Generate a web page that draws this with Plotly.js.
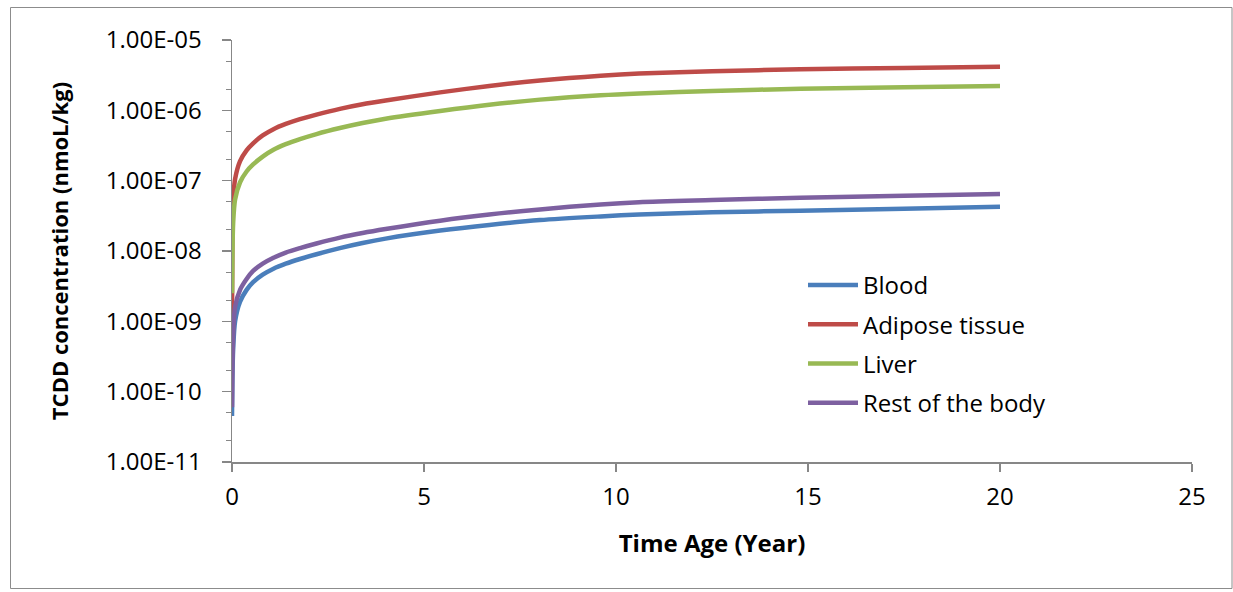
<!DOCTYPE html>
<html>
<head>
<meta charset="utf-8">
<script src="https://cdn.plot.ly/plotly-3.0.1.min.js"></script>
<style>
  html, body { margin: 0; padding: 0; background: #ffffff; }
  #chart { width: 1233px; height: 592px; }
</style>
</head>
<body>
<div id="chart"></div>
<script>
// Simulated TCDD concentration in body compartments over 20 years
const timeYears = [0, 0.01, 0.03, 0.08, 0.21, 0.38, 0.55, 0.8, 1.08, 1.4, 1.77, 2.2, 2.81, 3.4, 4, 5.42, 6.7, 8.02, 9.6, 10.6, 12.5, 14.8, 17.5, 20];

const blood = [4.5e-11, 1.5e-10, 4.0e-10, 1.0e-9, 1.9e-9, 2.8e-9, 3.6e-9, 4.6e-9, 5.6e-9, 6.6e-9, 7.7e-9, 9.0e-9, 1.1e-8, 1.3e-8, 1.5e-8, 1.95e-8, 2.35e-8, 2.75e-8, 3.1e-8, 3.3e-8, 3.55e-8, 3.75e-8, 4.0e-8, 4.25e-8];
const adipose = [1.0e-9, 1.5e-8, 5.0e-8, 1.05e-7, 1.9e-7, 2.7e-7, 3.4e-7, 4.4e-7, 5.4e-7, 6.4e-7, 7.5e-7, 8.7e-7, 1.05e-6, 1.22e-6, 1.38e-6, 1.8e-6, 2.22e-6, 2.65e-6, 3.1e-6, 3.33e-6, 3.6e-6, 3.83e-6, 4.0e-6, 4.17e-6];
const liver = [2.5e-9, 8.0e-9, 2.5e-8, 5.4e-8, 9.5e-8, 1.35e-7, 1.7e-7, 2.2e-7, 2.75e-7, 3.3e-7, 3.9e-7, 4.6e-7, 5.6e-7, 6.6e-7, 7.6e-7, 9.8e-7, 1.2e-6, 1.42e-6, 1.64e-6, 1.74e-6, 1.88e-6, 2.03e-6, 2.13e-6, 2.22e-6];
const restOfBody = [6.0e-11, 2.0e-10, 6.0e-10, 1.6e-9, 2.8e-9, 4.0e-9, 5.2e-9, 6.6e-9, 8.0e-9, 9.5e-9, 1.1e-8, 1.28e-8, 1.55e-8, 1.8e-8, 2.05e-8, 2.7e-8, 3.3e-8, 3.9e-8, 4.6e-8, 4.95e-8, 5.3e-8, 5.7e-8, 6.1e-8, 6.45e-8];

const seriesNames = ['Blood', 'Adipose tissue', 'Liver', 'Rest of the body'];
const seriesValues = [blood, adipose, liver, restOfBody];
const seriesColors = ['#4A7EBB', '#BE4B48', '#98B954', '#7D60A0'];

const yTickVals = [1e-11, 1e-10, 1e-9, 1e-8, 1e-7, 1e-6, 1e-5];
const yTickText = ['1.00E-11', '1.00E-10', '1.00E-09', '1.00E-08', '1.00E-07', '1.00E-06', '1.00E-05'];

const FONT = 'Open Sans, Noto Sans, sans-serif';
const AXIS_GREY = '#878787';

const traces = seriesNames.map((name, i) => ({
  type: 'scatter',
  mode: 'lines',
  name: name,
  legendgroup: 'g' + i,
  x: timeYears,
  y: seriesValues[i],
  line: { color: seriesColors[i], width: 4.5, shape: 'spline', smoothing: 0.8 },
  hoverinfo: 'x+y+name'
}));

// plot-area pixel box, used to place the outer frame in paper units
const W = 1233, H = 592;
const M = { l: 232, r: 41, t: 40, b: 130 };
const pw = W - M.l - M.r, ph = H - M.t - M.b;
const px = v => (v - M.l) / pw;
const py = v => 1 - (v - M.t) / ph;

const layout = {
  width: W,
  height: H,
  margin: M,
  paper_bgcolor: '#ffffff',
  plot_bgcolor: '#ffffff',
  font: { family: FONT, color: '#000000', size: 22 },
  showlegend: true,
  legend: {
    x: px(803), xanchor: 'left',
    y: py(263), yanchor: 'top',
    bgcolor: 'rgba(0,0,0,0)',
    font: { family: FONT, size: 24, color: '#000000' },
    tracegroupgap: 5,
    itemwidth: 50
  },
  xaxis: {
    range: [0, 25],
    tick0: 0,
    dtick: 5,
    ticks: 'outside',
    ticklen: 8,
    tickwidth: 1.5,
    tickcolor: AXIS_GREY,
    ticklabelstandoff: 5,
    showline: true,
    linecolor: AXIS_GREY,
    linewidth: 1.5,
    showgrid: false,
    zeroline: false,
    tickfont: { family: FONT, size: 24, color: '#000000' },
    title: { text: 'Time Age (Year)', font: { family: FONT, size: 24, weight: 'bold', color: '#000000' }, standoff: 24 },
    automargin: false
  },
  yaxis: {
    type: 'log',
    range: [-11, -5],
    tickmode: 'array',
    tickvals: yTickVals,
    ticktext: yTickText,
    ticks: 'outside',
    ticklen: 9,
    tickwidth: 1.5,
    tickcolor: AXIS_GREY,
    ticklabelstandoff: 15,
    minor: { ticks: 'outside', ticklen: 5, tickwidth: 1, tickcolor: AXIS_GREY, showgrid: false },
    showline: true,
    linecolor: AXIS_GREY,
    linewidth: 1.5,
    showgrid: false,
    zeroline: false,
    tickfont: { family: FONT, size: 24, color: '#000000' },
    title: { text: 'TCDD concentration (nmoL/kg)', font: { family: FONT, size: 22, weight: 'bold', color: '#000000' }, standoff: 31 },
    automargin: false
  },
  shapes: [{
    type: 'rect', xref: 'paper', yref: 'paper',
    x0: px(10.5), x1: px(1232), y0: py(588.5), y1: py(7.5),
    line: { color: '#8C8C8C', width: 1 },
    fillcolor: 'rgba(0,0,0,0)',
    layer: 'below'
  }]
};

Plotly.newPlot('chart', traces, layout, { displayModeBar: false, staticPlot: true });
</script>
</body>
</html>
